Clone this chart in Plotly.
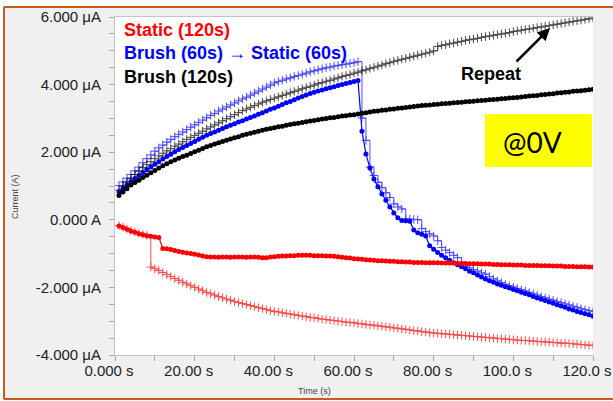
import plotly.graph_objects as go

# ---------------- data ----------------
TIME_S = list(range(1, 121))

STATIC_120 = [
    -0.18, -0.23, -0.28, -0.33, -0.37, -0.41, -0.44, -0.47, -0.49, -0.51, -0.52, -0.85,
    -0.86, -0.88, -0.91, -0.94, -0.96, -0.98, -1.00, -1.02, -1.04, -1.07, -1.09, -1.10,
    -1.10, -1.11, -1.10, -1.10, -1.11, -1.10, -1.10, -1.10, -1.11, -1.10, -1.10, -1.11,
    -1.12, -1.12, -1.10, -1.09, -1.08, -1.07, -1.07, -1.06, -1.06, -1.05, -1.05, -1.05,
    -1.05, -1.06, -1.06, -1.06, -1.07, -1.07, -1.08, -1.09, -1.11, -1.12, -1.13, -1.15,
    -1.16, -1.17, -1.18, -1.19, -1.20, -1.21, -1.21, -1.22, -1.23, -1.23, -1.24, -1.24,
    -1.25, -1.25, -1.26, -1.26, -1.26, -1.27, -1.27, -1.27, -1.27, -1.28, -1.28, -1.28,
    -1.28, -1.29, -1.29, -1.29, -1.30, -1.30, -1.30, -1.31, -1.31, -1.31, -1.32, -1.32,
    -1.33, -1.33, -1.33, -1.34, -1.34, -1.34, -1.35, -1.35, -1.35, -1.35, -1.36, -1.36,
    -1.36, -1.37, -1.37, -1.37, -1.38, -1.38, -1.38, -1.39, -1.39, -1.39, -1.40, -1.40,
]

STATIC_120_REPEAT = [
    -0.17, -0.22, -0.27, -0.32, -0.36, -0.40, -0.43, -0.46, -1.40, -1.45, -1.50, -1.56,
    -1.62, -1.68, -1.74, -1.79, -1.85, -1.90, -1.95, -2.00, -2.05, -2.10, -2.15, -2.19,
    -2.23, -2.27, -2.31, -2.35, -2.38, -2.42, -2.45, -2.48, -2.51, -2.54, -2.57, -2.60,
    -2.63, -2.66, -2.69, -2.71, -2.73, -2.75, -2.77, -2.79, -2.81, -2.83, -2.85, -2.87,
    -2.89, -2.90, -2.92, -2.94, -2.95, -2.97, -2.98, -3.00, -3.01, -3.03, -3.04, -3.05,
    -3.07, -3.08, -3.10, -3.11, -3.12, -3.14, -3.15, -3.17, -3.18, -3.20, -3.21, -3.23,
    -3.24, -3.26, -3.28, -3.29, -3.31, -3.32, -3.34, -3.35, -3.36, -3.37, -3.38, -3.39,
    -3.40, -3.41, -3.42, -3.43, -3.44, -3.45, -3.46, -3.47, -3.48, -3.49, -3.50, -3.51,
    -3.52, -3.53, -3.54, -3.55, -3.56, -3.57, -3.57, -3.58, -3.59, -3.60, -3.61, -3.61,
    -3.62, -3.63, -3.64, -3.65, -3.65, -3.66, -3.67, -3.68, -3.69, -3.70, -3.71, -3.72,
]

BRUSH60_STATIC60 = [
    0.83, 0.93, 1.03, 1.13, 1.22, 1.31, 1.40, 1.48, 1.56, 1.64, 1.72, 1.80,
    1.87, 1.94, 2.01, 2.08, 2.14, 2.20, 2.26, 2.32, 2.38, 2.44, 2.50, 2.55,
    2.60, 2.65, 2.70, 2.75, 2.80, 2.84, 2.89, 2.93, 2.98, 3.03, 3.07, 3.12,
    3.17, 3.22, 3.27, 3.31, 3.36, 3.41, 3.46, 3.50, 3.55, 3.60, 3.65, 3.69,
    3.74, 3.77, 3.81, 3.84, 3.88, 3.91, 3.94, 3.97, 4.00, 4.03, 4.06, 4.09,
    4.12, 2.62, 1.95, 1.53, 1.21, 0.98, 0.76, 0.58, 0.38, 0.20, 0.06, -0.02,
    -0.03, -0.04, -0.30, -0.38, -0.43, -0.48, -0.77, -0.87, -0.97, -1.05, -1.12, -1.20,
    -1.27, -1.33, -1.39, -1.45, -1.52, -1.57, -1.63, -1.69, -1.75, -1.80, -1.85, -1.90,
    -1.94, -1.98, -2.02, -2.06, -2.10, -2.14, -2.18, -2.22, -2.27, -2.31, -2.35, -2.39,
    -2.43, -2.47, -2.51, -2.55, -2.59, -2.64, -2.67, -2.71, -2.74, -2.78, -2.81, -2.85,
]

BRUSH60_STATIC60_REPEAT = [
    1.01, 1.12, 1.23, 1.34, 1.45, 1.56, 1.69, 1.81, 1.92, 2.03, 2.13, 2.21,
    2.30, 2.38, 2.46, 2.53, 2.60, 2.67, 2.74, 2.81, 2.88, 2.95, 3.02, 3.09,
    3.15, 3.22, 3.28, 3.34, 3.40, 3.46, 3.52, 3.58, 3.63, 3.69, 3.75, 3.81,
    3.87, 3.93, 3.99, 4.05, 4.09, 4.13, 4.17, 4.20, 4.24, 4.27, 4.31, 4.34,
    4.38, 4.41, 4.44, 4.47, 4.50, 4.52, 4.55, 4.57, 4.59, 4.61, 4.63, 4.65,
    4.68, 3.01, 2.35, 1.56, 1.31, 1.11, 0.95, 0.80, 0.66, 0.47, 0.38, 0.32,
    0.02, 0.02, 0.01, 0.00, -0.26, -0.35, -0.42, -0.48, -0.62, -0.82, -0.90, -0.97,
    -1.05, -1.12, -1.25, -1.37, -1.42, -1.47, -1.52, -1.57, -1.61, -1.68, -1.75, -1.81,
    -1.86, -1.91, -1.95, -1.99, -2.03, -2.07, -2.11, -2.15, -2.19, -2.23, -2.27, -2.31,
    -2.35, -2.38, -2.42, -2.45, -2.49, -2.52, -2.56, -2.59, -2.63, -2.66, -2.69, -2.72,
]

BRUSH_120 = [
    0.72, 0.82, 0.92, 1.03, 1.10, 1.17, 1.25, 1.32, 1.39, 1.46, 1.53, 1.60,
    1.66, 1.72, 1.77, 1.82, 1.87, 1.91, 1.96, 2.01, 2.06, 2.11, 2.16, 2.20,
    2.24, 2.28, 2.32, 2.35, 2.39, 2.43, 2.46, 2.50, 2.53, 2.56, 2.59, 2.62,
    2.65, 2.68, 2.70, 2.72, 2.75, 2.77, 2.80, 2.82, 2.84, 2.86, 2.88, 2.90,
    2.92, 2.94, 2.96, 2.98, 3.00, 3.02, 3.03, 3.05, 3.07, 3.08, 3.10, 3.11,
    3.13, 3.15, 3.17, 3.19, 3.21, 3.22, 3.24, 3.25, 3.27, 3.28, 3.30, 3.31,
    3.32, 3.34, 3.35, 3.37, 3.38, 3.39, 3.40, 3.41, 3.42, 3.43, 3.44, 3.45,
    3.46, 3.47, 3.48, 3.49, 3.50, 3.51, 3.52, 3.53, 3.54, 3.55, 3.56, 3.57,
    3.58, 3.59, 3.60, 3.61, 3.62, 3.63, 3.65, 3.66, 3.67, 3.68, 3.70, 3.71,
    3.72, 3.73, 3.75, 3.76, 3.77, 3.78, 3.80, 3.81, 3.82, 3.83, 3.85, 3.86,
]

BRUSH_120_REPEAT = [
    0.88, 1.00, 1.12, 1.23, 1.34, 1.44, 1.54, 1.63, 1.72, 1.81, 1.89, 1.97,
    2.04, 2.11, 2.18, 2.24, 2.31, 2.38, 2.44, 2.50, 2.56, 2.62, 2.69, 2.75,
    2.81, 2.87, 2.93, 2.99, 3.05, 3.11, 3.17, 3.23, 3.28, 3.33, 3.38, 3.43,
    3.48, 3.52, 3.56, 3.60, 3.64, 3.68, 3.72, 3.76, 3.80, 3.84, 3.88, 3.92,
    3.95, 3.99, 4.03, 4.06, 4.10, 4.13, 4.17, 4.20, 4.24, 4.27, 4.30, 4.34,
    4.37, 4.41, 4.44, 4.48, 4.51, 4.55, 4.58, 4.62, 4.65, 4.69, 4.72, 4.75,
    4.78, 4.81, 4.84, 4.87, 4.90, 4.93, 4.96, 5.00, 5.13, 5.16, 5.18, 5.21,
    5.23, 5.26, 5.28, 5.31, 5.33, 5.35, 5.37, 5.40, 5.42, 5.44, 5.46, 5.48,
    5.50, 5.52, 5.54, 5.57, 5.59, 5.61, 5.63, 5.65, 5.67, 5.69, 5.71, 5.73,
    5.75, 5.77, 5.79, 5.81, 5.83, 5.85, 5.87, 5.89, 5.91, 5.93, 5.95, 5.97,
]

X_TICKS = [0, 20, 40, 60, 80, 100, 120]
X_TICK_LABELS = ["0.000 s", "20.00 s", "40.00 s", "60.00 s", "80.00 s", "100.0 s", "120.0 s"]
Y_TICKS = [-4, -2, 0, 2, 4, 6]
Y_TICK_LABELS = ["-4.000 μA", "-2.000 μA", "0.000 A", "2.000 μA", "4.000 μA", "6.000 μA"]
X_MINOR = [10, 30, 50, 70, 90, 110]
Y_MINOR = [-3.5, -3, -2.5, -1.5, -1, -0.5, 0.5, 1, 1.5, 2.5, 3, 3.5, 4.5, 5, 5.5]

LEGEND_TEXT = ["Static (120s)", "Brush (60s) \u2192 Static (60s)", "Brush (120s)"]

# ---------------- layout helpers ----------------
W, H = 613, 401
L, R, T, B = 115, 20, 17, 46
PW, PH = W - L - R, H - T - B


def px2x(px):
    return (px - L) / PW


def py2y(py):
    return (H - B - py) / PH


RED, BLUE, BLACK = "#ff0000", "#0000ff", "#000000"
FONT = "Liberation Sans, Arial, sans-serif"


def plus_trace(y, color):
    return go.Scatter(
        x=TIME_S, y=y, mode="lines+markers", line=dict(color=color, width=1, shape="hv"),
        marker=dict(symbol="cross-thin", size=6, color=color, line=dict(color=color, width=1)),
        opacity=0.7, hoverinfo="skip",
    )


def dot_trace(y, color):
    return go.Scatter(
        x=TIME_S, y=y, mode="lines+markers", line=dict(color=color, width=1.2),
        marker=dict(symbol="circle", size=5, color=color, line=dict(width=0)), hoverinfo="skip",
    )


fig = go.Figure()
fig.add_trace(plus_trace(BRUSH60_STATIC60_REPEAT, BLUE))
fig.add_trace(dot_trace(BRUSH60_STATIC60, BLUE))
fig.add_trace(plus_trace(BRUSH_120_REPEAT, BLACK))
fig.add_trace(dot_trace(BRUSH_120, BLACK))
fig.add_trace(plus_trace(STATIC_120_REPEAT, RED))
fig.add_trace(dot_trace(STATIC_120, RED))

axis_common = dict(
    showgrid=False, zeroline=False, showline=True, linecolor="#c4c4c4", linewidth=1,
    ticks="outside", ticklen=5, tickcolor="#a8a8a8", tickwidth=1, automargin=False,
    tickfont=dict(family=FONT, size=15, color="#222222"),
)

fig.update_layout(
    width=W, height=H, showlegend=False,
    margin=dict(l=L, r=R, t=T, b=B, pad=0, autoexpand=False),
    paper_bgcolor="#f0f0f0", plot_bgcolor="#ffffff",
    xaxis=dict(range=[0, 120], tickmode="array", tickvals=X_TICKS, ticktext=X_TICK_LABELS,
               mirror=True, ticklabelshift=-6, ticklabelstandoff=-3,
               minor=dict(tickmode="array", tickvals=X_MINOR, ticks="outside", ticklen=5,
                          tickcolor="#a8a8a8"),
               **axis_common),
    yaxis=dict(range=[-4, 6], tickmode="array", tickvals=Y_TICKS, ticktext=Y_TICK_LABELS,
               ticklabelstandoff=5,
               minor=dict(tickmode="array", tickvals=Y_MINOR, ticks="outside", ticklen=5,
                          tickcolor="#a8a8a8"),
               **axis_common),
)

ORANGE = "#c65b1c"
shapes = [
    dict(type="rect", xref="paper", yref="paper", x0=px2x(0), x1=px2x(W), y0=py2y(7), y1=py2y(0),
         fillcolor="white", line=dict(width=0), layer="above"),
    dict(type="rect", xref="paper", yref="paper", x0=px2x(0), x1=px2x(4), y0=py2y(H), y1=py2y(0),
         fillcolor="white", line=dict(width=0), layer="above"),
    dict(type="rect", xref="paper", yref="paper", x0=px2x(0), x1=px2x(W), y0=py2y(H), y1=py2y(399),
         fillcolor="white", line=dict(width=0), layer="above"),
    dict(type="line", xref="paper", yref="paper", x0=px2x(4), x1=px2x(W), y0=py2y(7), y1=py2y(7),
         line=dict(color=ORANGE, width=2), layer="above"),
    dict(type="line", xref="paper", yref="paper", x0=px2x(4), x1=px2x(4), y0=py2y(7), y1=py2y(399),
         line=dict(color=ORANGE, width=2), layer="above"),
    dict(type="line", xref="paper", yref="paper", x0=px2x(4), x1=px2x(W), y0=py2y(399), y1=py2y(399),
         line=dict(color=ORANGE, width=2), layer="above"),
    dict(type="rect", xref="paper", yref="paper", x0=px2x(485), x1=px2x(592), y0=py2y(167), y1=py2y(114),
         fillcolor="#ffff00", line=dict(width=0), layer="above"),
]
fig.update_layout(shapes=shapes)

annotations = []
for text, color, py in zip(LEGEND_TEXT, [RED, BLUE, BLACK], [30, 53, 77]):
    annotations.append(dict(
        x=px2x(122), y=py2y(py), xref="paper", yref="paper", xanchor="left", yanchor="middle",
        text=f"<b>{text}</b>", showarrow=False, font=dict(family=FONT, size=18, color=color),
    ))
annotations += [
    dict(x=px2x(491), y=py2y(74), xref="paper", yref="paper", xanchor="center", yanchor="middle",
         text="<b>Repeat</b>", showarrow=False, font=dict(family=FONT, size=18, color="#000000")),
    dict(x=px2x(550), y=py2y(28), xref="paper", yref="paper", text="", showarrow=True,
         ax=-35, ay=35, arrowhead=2, arrowsize=1, arrowwidth=2.5, arrowcolor="#000000"),
    dict(x=px2x(532), y=py2y(142), xref="paper", yref="paper", xanchor="center", yanchor="middle",
         text="@0V", showarrow=False, font=dict(family="Lato, Carlito, sans-serif", size=28, color="#000000")),
    dict(x=px2x(15), y=py2y(197), xref="paper", yref="paper", xanchor="center", yanchor="middle",
         text="Current (A)", textangle=-90, showarrow=False,
         font=dict(family=FONT, size=9, color="#444444")),
    dict(x=px2x(314), y=py2y(391), xref="paper", yref="paper", xanchor="center", yanchor="middle",
         text="Time (s)", showarrow=False, font=dict(family=FONT, size=9, color="#444444")),
]
fig.update_layout(annotations=annotations)

fig.write_html("out.html")
